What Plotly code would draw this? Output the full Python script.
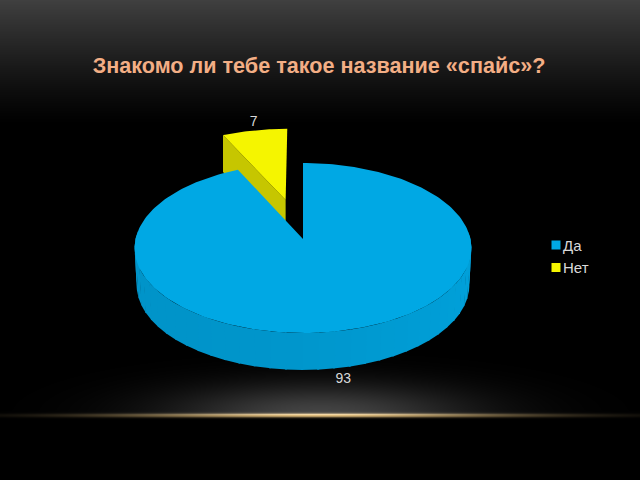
import numpy as np
import plotly.graph_objects as go

categories = ["Да", "Нет"]
values = [93, 7]
colors = ["#00A8E4", "#F5F500"]
title_text = "Знакомо ли тебе такое название «спайс»?"

W, H = 640, 480
CX, CY, RX, RY, K, DEPTH, EXPLODE = 303.0, 239.0, 167.5, 84.0, 0.106, 37.0, 0.5
BOTTOM_SCALE = 0.988
SMALL_R = 1.035


def project(X, Y, drop=0.0):
    X, Y = np.asarray(X, float), np.asarray(Y, float)
    s = 1 / (1 + K * Y)
    f = BOTTOM_SCALE if drop else 1.0
    return CX + RX * X * s * f, CY - RY * Y * s + drop


def unit(deg):
    a = np.radians(deg)
    return np.sin(a), np.cos(a)


# background raster
yy, xx = np.mgrid[0:H, 0:W]
top = np.clip(1 - yy / 125, 0, 1) ** 1.2 * 64
glow = 68 * np.exp(-(((xx - 320) / 150) ** 2 + ((yy - 414) / 30) ** 2))
glow[yy > 414] = 0
base = top + glow
img = np.stack([base, base, base], axis=-1)
line = np.exp(-((yy - 415) / 2.0) ** 2) * np.exp(-((xx - 320) / 200) ** 2)
img[..., 0] += line * 225
img[..., 1] += line * 190
img[..., 2] += line * 125
img = np.clip(img, 0, 255).astype(np.uint8)

fig = go.Figure()
fig.add_trace(go.Image(z=img, x0=0.5, y0=0.5, dx=1, dy=1, hoverinfo="skip"))

total = sum(values)
sweep_small = values[1] / total * 360
mid_small = -sweep_small / 2
ex, ey = unit(mid_small)
ex, ey = ex * EXPLODE, ey * EXPLODE

# exploded slice (Нет)
ang = np.linspace(-sweep_small, 0, 30)
ux, uy = unit(ang)
ux, uy = ux * SMALL_R, uy * SMALL_R
x_top, y_top = project(np.r_[ex, ux + ex], np.r_[ey, uy + ey])
cor_x, cor_y = project(np.array([ex, ux[0] + ex]), np.array([ey, uy[0] + ey]))
side_x = np.r_[cor_x, cor_x[::-1]]
side_y = np.r_[cor_y, (cor_y + DEPTH)[::-1]]
fig.add_trace(go.Scatter(x=side_x, y=side_y, fill="toself", fillcolor="#C6C600", mode="lines",
                         line=dict(width=0), hoverinfo="skip", showlegend=False))
fig.add_trace(go.Scatter(x=x_top, y=y_top, fill="toself", fillcolor=colors[1], mode="lines",
                         line=dict(width=0), hoverinfo="skip", showlegend=False))

# main slice (Да): outer wall facets
edges = np.linspace(85, 275, 39)
for a0, a1 in zip(edges[:-1], edges[1:]):
    ax = np.linspace(a0, a1 + 0.6, 4)
    ux, uy = unit(ax)
    xt, yt = project(ux, uy)
    xb, yb = project(ux, uy, DEPTH)
    t = (np.mean(xt) - CX) / RX
    shade = 0.90 + 0.035 * t + 0.02 * t * t
    col = "rgb(%d,%d,%d)" % (0, 168 * shade, 228 * shade)
    fig.add_trace(go.Scatter(x=np.r_[xt, xb[::-1]], y=np.r_[yt, yb[::-1]], fill="toself",
                             fillcolor=col, mode="lines", line=dict(width=0),
                             hoverinfo="skip", showlegend=False))

ang = np.linspace(0, values[0] / total * 360, 240)
ux, uy = unit(ang)
xt, yt = project(np.r_[0, ux], np.r_[0, uy])
fig.add_trace(go.Scatter(x=xt, y=yt, fill="toself", fillcolor=colors[0], mode="lines",
                         line=dict(width=0), hoverinfo="skip", showlegend=False))

# data labels
mx, my = unit(values[0] / total * 180)
lx0, ly0 = project(mx, my, DEPTH)
lx1, ly1 = project(unit(mid_small)[0] + ex, unit(mid_small)[1] + ey)
fig.add_trace(go.Scatter(x=[float(lx0), float(lx1) - 2], y=[float(ly0) + 12, float(ly1) - 10],
                         mode="text", text=[str(values[0]), str(values[1])],
                         textposition="middle center",
                         textfont=dict(family="Liberation Sans", size=14, color="#D9D9D9"),
                         hoverinfo="skip", showlegend=False))

# legend entries
for name, col in zip(categories, colors):
    fig.add_trace(go.Scatter(x=[None], y=[None], mode="markers", name=name,
                             marker=dict(symbol="square", size=9, color=col), hoverinfo="skip"))

fig.update_layout(
    width=W, height=H, margin=dict(l=0, r=0, t=0, b=0),
    paper_bgcolor="black", plot_bgcolor="black",
    xaxis=dict(range=[0, W], visible=False, fixedrange=True),
    yaxis=dict(range=[H, 0], visible=False, fixedrange=True),
    legend=dict(x=0.8375, y=0.466, xanchor="left", yanchor="middle", bgcolor="rgba(0,0,0,0)",
                font=dict(family="Liberation Sans", size=15, color="#D9D9D9"),
                itemwidth=30, tracegroupgap=0),
    title=dict(text="<b>" + title_text + "</b>", x=0.4985, xanchor="center", y=0.864, yanchor="middle",
               font=dict(family="Liberation Sans", size=21.6, color="#F3AE85")),
)
# tighten the gap between legend swatches and their labels
post = """
document.body.style.margin='0';
document.querySelectorAll('.legendtext').forEach(function(t){
  t.setAttribute('x', parseFloat(t.getAttribute('x')) - 13);
});
"""
fig.write_html("out.html", config={"displayModeBar": False}, post_script=post)
